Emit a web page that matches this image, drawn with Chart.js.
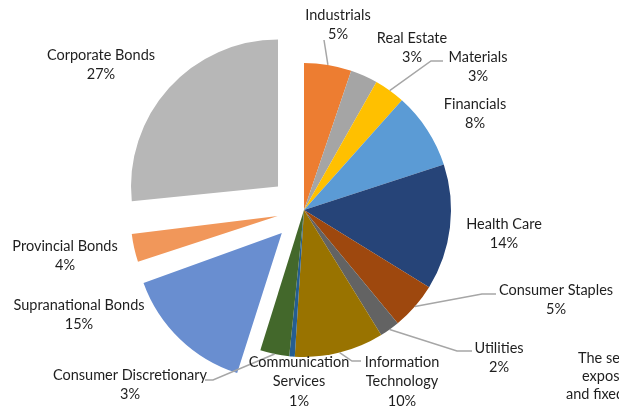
<!DOCTYPE html>
<html>
<head>
<meta charset="utf-8">
<script src="https://cdn.jsdelivr.net/npm/chart.js@4"></script>
<style>
  html, body { margin: 0; padding: 0; background: #fff; }
  #pie { display: block; }
</style>
</head>
<body>
<canvas id="pie" width="619" height="408"></canvas>
<script>
// sectors, clockwise from 12 o'clock
const categories = [
  'Industrials', 'Real Estate', 'Materials', 'Financials', 'Health Care',
  'Consumer Staples', 'Utilities', 'Information Technology',
  'Communication Services', 'Consumer Discretionary',
  'Supranational Bonds', 'Provincial Bonds', 'Corporate Bonds'
];
const weights = [5.2, 3.0, 3.4, 8.4, 13.8, 5.2, 2.2, 9.8, 0.6, 3.2, 14.8, 3.8, 26.6];
const colors = [
  '#ED7D31', '#A5A5A5', '#FFC000', '#5B9BD5', '#264478',
  '#9E480E', '#636363', '#997300', '#255E91', '#43682B',
  '#698ED0', '#F1975A', '#B7B7B7'
];
// how far each slice is pulled out (Chart.js moves a slice by offset/4 px)
const pulled = [0, 0, 0, 0, 0, 0, 0, 0, 0, 0, 128, 108, 140];

// label text lines, label centre, and optional leader line (elbow, end)
const labelLines = [
  ['Industrials'], ['Real Estate'], ['Materials'], ['Financials'], ['Health Care'],
  ['Consumer Staples'], ['Utilities'], ['Information', 'Technology'],
  ['Communication', 'Services'], ['Consumer Discretionary'],
  ['Supranational Bonds'], ['Provincial Bonds'], ['Corporate Bonds']
];
const labelAt = [
  [338, 15], [412, 38], [478, 57], [475, 104], [504, 224],
  [556, 290], [499, 348], [402, 362], [299, 362], [130, 375],
  [79, 305], [65, 246], [101, 55]
];
const leaders = [
  [[324, 40], [324, 40]], null, [[431, 61], [443, 61]], null, null,
  [[482, 294], [496, 294]], [[457, 351], [472, 351]], [[352, 361], [361, 361]],
  null, [[213, 380], [205, 380]],
  null, null, null
];

const total = weights.reduce((a, b) => a + b, 0);

// Chart.js also grows a pulled-out slice's radius; undo that so all slices keep one radius
const keepRadius = {
  id: 'keepRadius',
  afterDatasetsUpdate(chart) {
    chart.getDatasetMeta(0).data.forEach((arc, i) => {
      const fix = 1 - Math.sin(Math.min(Math.PI, arc.circumference));
      arc.outerRadius -= (pulled[i] / 4) * fix;
    });
  }
};

const sliceLabels = {
  id: 'sliceLabels',
  afterDatasetsDraw(chart) {
    const ctx = chart.ctx;
    const arcs = chart.getDatasetMeta(0).data;
    ctx.save();

    // leader lines
    ctx.strokeStyle = '#A6A6A6';
    ctx.lineWidth = 1.5;
    arcs.forEach((arc, i) => {
      if (!leaders[i]) return;
      const mid = (arc.startAngle + arc.endAngle) / 2;
      const sx = arc.x + Math.cos(mid) * arc.outerRadius;
      const sy = arc.y + Math.sin(mid) * arc.outerRadius;
      ctx.beginPath();
      ctx.moveTo(sx, sy);
      ctx.lineTo(leaders[i][0][0], leaders[i][0][1]);
      ctx.lineTo(leaders[i][1][0], leaders[i][1][1]);
      ctx.stroke();
    });

    // texts
    ctx.fillStyle = '#1e1e1e';
    ctx.font = '14.5px Lato';
    ctx.textAlign = 'center';
    ctx.textBaseline = 'middle';
    const lh = 19.8;
    weights.forEach((v, i) => {
      const lines = labelLines[i].concat([Math.round(v / total * 100) + '%']);
      const [cx, cy] = labelAt[i];
      lines.forEach((t, k) => ctx.fillText(t, cx, cy + k * lh));
    });

    // text box at the right edge, cut off by the page
    ctx.textAlign = 'left';
    ctx.fillText('The sector', 578, 358);
    ctx.fillText('exposure', 582, 376);
    ctx.fillText('and fixed income', 566, 394);
    ctx.restore();
  }
};

new Chart(document.getElementById('pie'), {
  type: 'pie',
  data: {
    labels: categories,
    datasets: [{
      data: weights,
      backgroundColor: colors,
      borderWidth: 0,
      offset: pulled,
      radius: 147
    }]
  },
  options: {
    responsive: false,
    animation: false,
    layout: { padding: { left: 0, right: 11, top: 12, bottom: 0 } },
    plugins: {
      legend: { display: false },
      tooltip: { enabled: false }
    }
  },
  plugins: [keepRadius, sliceLabels]
});
</script>
</body>
</html>
